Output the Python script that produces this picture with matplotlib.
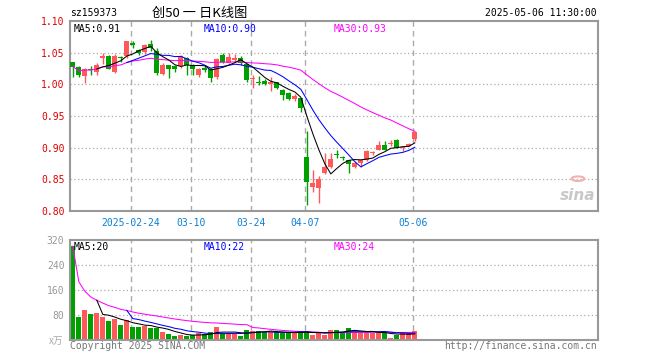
import numpy as np
import pandas as pd
import matplotlib
matplotlib.use("Agg")
import matplotlib.pyplot as plt
from matplotlib.patches import Circle

plt.rcParams['font.family'] = ['DejaVu Sans Mono', 'Noto Sans CJK SC']

dates = ["2025-02-10", "02-11", "02-12", "02-13", "02-14", "02-17", "02-18", "02-19", "02-20", "02-21",
         "2025-02-24", "02-25", "02-26", "02-27", "02-28", "03-03", "03-04", "03-05", "03-06", "03-07",
         "03-10", "03-11", "03-12", "03-13", "03-14", "03-17", "03-18", "03-19", "03-20", "03-21",
         "03-24", "03-25", "03-26", "03-27", "03-28", "03-31", "04-01", "04-02", "04-03", "04-07",
         "04-08", "04-09", "04-10", "04-11", "04-14", "04-15", "04-16", "04-17", "04-18", "04-21",
         "04-22", "04-23", "04-24", "04-25", "04-28", "04-29", "04-30", "05-06"]

opens = [1.035, 1.028, 1.013, 1.025, 1.019, 1.041, 1.044, 1.020, 1.042, 1.044,
         1.066, 1.055, 1.051, 1.063, 1.052, 1.017, 1.030, 1.029, 1.029, 1.041,
         1.031, 1.014, 1.026, 1.025, 1.011, 1.046, 1.034, 1.038, 1.042, 1.032,
         1.008, 1.004, 1.006, 1.001, 1.003, 0.991, 0.986, 0.977, 0.978, 0.885,
         0.838, 0.837, 0.860, 0.870, 0.890, 0.885, 0.880, 0.870, 0.876, 0.880,
         0.891, 0.897, 0.905, 0.906, 0.912, 0.899, 0.903, 0.913]
highs = [1.036, 1.029, 1.026, 1.029, 1.033, 1.050, 1.046, 1.048, 1.045, 1.068,
         1.068, 1.056, 1.064, 1.070, 1.057, 1.034, 1.031, 1.030, 1.047, 1.043,
         1.032, 1.026, 1.030, 1.026, 1.042, 1.050, 1.050, 1.048, 1.044, 1.034,
         1.014, 1.013, 1.008, 1.011, 1.004, 0.993, 0.988, 0.984, 0.979, 0.926,
         0.864, 0.855, 0.891, 0.891, 0.896, 0.887, 0.881, 0.877, 0.881, 0.896,
         0.895, 0.911, 0.910, 0.912, 0.913, 0.901, 0.908, 0.927]
lows = [1.011, 1.011, 1.002, 1.015, 1.014, 1.032, 1.024, 1.018, 1.035, 1.042,
        1.057, 1.047, 1.048, 1.052, 1.014, 1.014, 1.010, 1.019, 1.026, 1.014,
        1.014, 1.012, 1.020, 1.004, 1.008, 1.033, 1.033, 1.036, 1.031, 1.004,
        0.995, 0.999, 0.999, 0.990, 0.993, 0.976, 0.976, 0.974, 0.956, 0.810,
        0.830, 0.813, 0.859, 0.868, 0.883, 0.881, 0.860, 0.868, 0.870, 0.879,
        0.888, 0.896, 0.897, 0.903, 0.900, 0.895, 0.902, 0.911]
closes = [1.028, 1.015, 1.025, 1.022, 1.031, 1.045, 1.025, 1.044, 1.041, 1.068,
          1.062, 1.050, 1.062, 1.058, 1.018, 1.030, 1.024, 1.025, 1.044, 1.030,
          1.025, 1.025, 1.023, 1.010, 1.040, 1.036, 1.043, 1.042, 1.034, 1.007,
          1.010, 1.002, 1.001, 1.004, 0.995, 0.983, 0.977, 0.981, 0.962, 0.846,
          0.844, 0.851, 0.870, 0.882, 0.889, 0.884, 0.875, 0.876, 0.880, 0.895,
          0.892, 0.904, 0.897, 0.907, 0.900, 0.900, 0.906, 0.925]
volumes = [300, 73, 95, 82, 86, 73, 60, 66, 47, 63,
           41, 41, 46, 40, 39, 25, 19, 14, 16, 14,
           15, 21, 18, 25, 41, 21, 21, 19, 14, 33,
           30, 30, 25, 25, 25, 23, 23, 23, 27, 30,
           16, 23, 16, 33, 33, 23, 40, 25, 24, 24,
           24, 24, 24, 8, 16, 22, 22, 30]

tick_dates = ["2025-02-24", "03-10", "03-24", "04-07", "05-06"]
price_ticks = [0.80, 0.85, 0.90, 0.95, 1.00, 1.05, 1.10]
vol_ticks = [80, 160, 240, 320]

RED = '#ff5a5a'
GREEN = '#00a000'
GRID = '#aaaaaa'
FRAME = '#999999'
FS = 7

df = pd.DataFrame({'o': opens, 'h': highs, 'l': lows, 'c': closes, 'v': volumes})
x = np.arange(len(df))
colors = [RED if c >= o else GREEN for o, c in zip(df.o, df.c)]

W, H = 660, 360
fig = plt.figure(figsize=(6.6, 3.6), dpi=100)


def px_axes(l, t, r, b):
    return fig.add_axes([l / W, 1 - b / H, (r - l) / W, (b - t) / H])


ax = px_axes(70, 21, 598, 211)
axv = px_axes(70, 240, 598, 340)

xlim = (-0.47, 87.53)
tick_x = [dates.index(d) - 0.28 for d in tick_dates]

for a in (ax, axv):
    a.set_xlim(*xlim)
    for s in a.spines.values():
        s.set_color(FRAME)
        s.set_linewidth(1.5)
    a.tick_params(length=0)
    for tx in tick_x:
        a.axvline(tx, color=GRID, lw=1, dashes=(4, 3), zorder=0)

# price panel
ax.set_ylim(0.80, 1.10)
for p in price_ticks[1:-1]:
    ax.axhline(p, color=GRID, lw=0.9, ls=(0, (1, 2)), zorder=0)
ax.set_yticks(price_ticks)
ax.set_yticklabels(['%.2f' % p for p in price_ticks], color='#e00000', fontsize=FS)
ax.set_xticks(tick_x)
ax.set_xticklabels(tick_dates, color='#0a7fd6', fontsize=FS)
ax.tick_params(axis='x', pad=5)
ax.tick_params(axis='y', pad=4)

body = np.maximum((df.c - df.o).abs(), 0.0016)
ax.vlines(x, df.l, df.h, colors=colors, lw=1, zorder=2)
ax.bar(x, body, bottom=np.minimum(df.o, df.c), width=0.8, color=colors, lw=0, zorder=3)

ma5 = df.c.rolling(5).mean()
ma10 = df.c.rolling(10).mean()
ma30 = df.c.rolling(30, min_periods=1).mean()
ax.plot(x, ma30, color='#ff00ff', lw=0.75, zorder=4)
ax.plot(x, ma10, color='#0000ff', lw=0.75, zorder=4)
ax.plot(x, ma5, color='black', lw=0.75, zorder=4)

ax.text(4 / 528, 0.985, 'MA5:%.2f' % ma5.iloc[-1], transform=ax.transAxes,
        va='top', ha='left', fontsize=FS, color='black')
ax.text(134 / 528, 0.985, 'MA10:%.2f' % ma10.iloc[-1], transform=ax.transAxes,
        va='top', ha='left', fontsize=FS, color='#0000ff')
ax.text(264 / 528, 0.985, 'MA30:%.2f' % ma30.iloc[-1], transform=ax.transAxes,
        va='top', ha='left', fontsize=FS, color='#ff00ff')

# sina watermark
ax.text(0.995, 0.04, 'sina', transform=ax.transAxes, ha='right', va='bottom',
        fontsize=11, fontweight='bold', style='italic', color='#c8c8c8',
        family='DejaVu Sans', zorder=1)
ax.add_patch(Circle((0.962, 0.17), 0.012, transform=ax.transAxes,
                    facecolor='none', edgecolor='#f4b0b0', lw=1.5, zorder=1))

# volume panel
axv.set_ylim(0, 320)
for v in vol_ticks[:-1]:
    axv.axhline(v, color=GRID, lw=0.9, ls=(0, (1, 2)), zorder=0)
axv.set_yticks(vol_ticks)
axv.set_yticklabels([str(v) for v in vol_ticks], color='#999999', fontsize=FS)
axv.tick_params(axis='y', pad=4)
axv.set_xticks([])
axv.bar(x, df.v, width=0.8, color=colors, lw=0, zorder=2)

vma5 = df.v.rolling(5).mean()
vma10 = df.v.rolling(10).mean()
vma30 = df.v.rolling(30, min_periods=1).mean()
axv.plot(x, vma30, color='#ff00ff', lw=0.75, zorder=4)
axv.plot(x, vma10, color='#0000ff', lw=0.75, zorder=4)
axv.plot(x, vma5, color='black', lw=0.75, zorder=4)

axv.text(4 / 528, 0.98, 'MA5:%d' % round(vma5.iloc[-1]), transform=axv.transAxes,
         va='top', ha='left', fontsize=FS, color='black')
axv.text(134 / 528, 0.98, 'MA10:%d' % round(vma10.iloc[-1]), transform=axv.transAxes,
         va='top', ha='left', fontsize=FS, color='#0000ff')
axv.text(264 / 528, 0.98, 'MA30:%d' % round(vma30.iloc[-1]), transform=axv.transAxes,
         va='top', ha='left', fontsize=FS, color='#ff00ff')

# header / footer texts
fig.text(70 / W, 1 - 13 / H, 'sz159373', ha='left', va='center', fontsize=FS)
fig.text(200 / W, 1 - 13 / H, '创50 一 日K线图', ha='center', va='center', fontsize=9.5,
         family=['Noto Sans CJK SC', 'DejaVu Sans'])
fig.text(597 / W, 1 - 13 / H, '2025-05-06 11:30:00', ha='right', va='center', fontsize=FS)
fig.text(63 / W, 1 - 341 / H, 'x万', ha='right', va='center', fontsize=7, color='#aaaaaa',
         family=['Noto Sans CJK SC', 'DejaVu Sans'])
fig.text(70 / W, 1 - 346 / H, 'Copyright 2025 SINA.COM', ha='left', va='center',
         fontsize=FS, color='#777777')
fig.text(597 / W, 1 - 346 / H, 'http://finance.sina.com.cn', ha='right', va='center',
         fontsize=FS, color='#777777')

fig.savefig('out.png', dpi=100)
